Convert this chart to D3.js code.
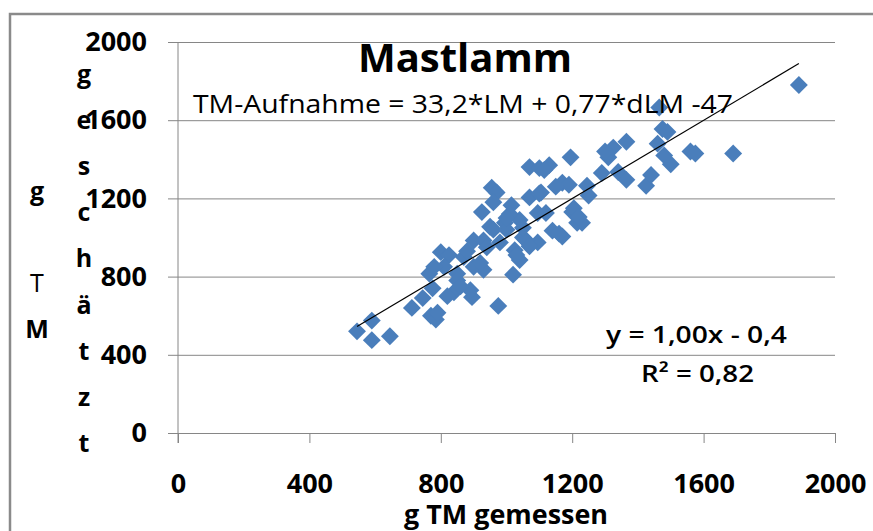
<!DOCTYPE html>
<html>
<head>
<meta charset="utf-8">
<script src="https://cdn.jsdelivr.net/npm/d3@7"></script>
<style>
body { margin: 0; background: #fff; }
svg { display: block; font-family: "Open Sans", sans-serif; }
</style>
</head>
<body>
<svg width="873" height="531"></svg>
<script>
var measured = [545, 590, 590, 645, 712, 745, 770, 785, 790, 775,
    765, 800, 825, 850, 840, 820, 895, 975, 850, 810,
    780, 870, 880, 900, 930, 1020, 1025, 900, 930, 980,
    1050, 1095, 950, 995, 1040, 925, 1015, 1095, 1120, 1070,
    1100, 955, 970, 1070, 1100, 1130, 1195, 1170, 1190, 1150,
    1245, 1250, 1200, 1215, 1230, 1170, 1140, 1205, 1220, 1060,
    1070, 1040, 1105, 1000, 1010, 960, 1290, 1310, 1325, 1340,
    1365, 1365, 1425, 1440, 1460, 1465, 1475, 1490, 1480, 1500,
    1560, 1575, 1690, 1890, 1300, 1030, 890, 960, 1050, 1115,
    1160, 920, 1000, 860, 940];
var estimated = [520, 575, 475, 495, 640, 690, 600, 580, 615, 740,
    815, 925, 910, 815, 720, 700, 695, 650, 780, 850,
    850, 900, 930, 850, 835, 810, 935, 985, 985, 975,
    1000, 975, 1055, 1075, 1090, 1130, 1165, 1125, 1125, 1205,
    1225, 1255, 1230, 1360, 1355, 1370, 1410, 1280, 1270, 1260,
    1265, 1215, 1130, 1075, 1075, 1005, 1035, 1150, 1105, 985,
    955, 885, 1230, 1040, 1120, 1180, 1330, 1410, 1460, 1335,
    1490, 1295, 1265, 1320, 1480, 1665, 1555, 1540, 1420, 1375,
    1440, 1430, 1430, 1780, 1440, 910, 730, 1040, 1050, 1345,
    1020, 870, 1100, 750, 950];

var xTicks = [0, 400, 800, 1200, 1600, 2000];
var yTicks = [0, 400, 800, 1200, 1600, 2000];

// trend line y = 1,00x - 0,4 over the measured range
var trendSlope = 1.00;
var trendIntercept = -0.4;

var title = "Mastlamm";
var formula = "TM-Aufnahme = 33,2*LM + 0,77*dLM -47";
var eqLine = "y = 1,00x - 0,4";
var r2Line = "R² = 0,82";
var xTitle = "g TM gemessen";
var yTitleOuter = ["g", "", "T", "M"];
var yTitleInner = "geschätzt".split("");

var svg = d3.select("svg");
var gridColor = "#868686";
var markColor = "#4a7ebb";
var fmt = d3.format("d");

var x = d3.scaleLinear().domain([0, 2000]).range([178, 835]);
var y = d3.scaleLinear().domain([0, 2000]).range([433, 42]);

// outer frame (only left and top edges visible)
svg.append("path")
    .attr("d", "M10,531V14H873")
    .attr("fill", "none")
    .attr("stroke", "#8a8a8a")
    .attr("stroke-width", 2.5);

var yAxis = svg.append("g")
    .attr("transform", "translate(168,0)")
    .call(d3.axisLeft(y).tickValues(yTicks).tickFormat(fmt)
        .tickSizeInner(-(835 - 168)).tickSizeOuter(0).tickPadding(21));
yAxis.select(".domain").remove();
yAxis.selectAll("line").attr("stroke", gridColor);
yAxis.selectAll("text")
    .attr("fill", "#000")
    .style("font-size", "27px")
    .style("font-weight", "bold")
    .style("font-family", "'Open Sans', sans-serif");

var xAxis = svg.append("g")
    .attr("transform", "translate(0,433)")
    .call(d3.axisBottom(x).tickValues(xTicks).tickFormat(fmt)
        .tickSizeInner(10).tickSizeOuter(0).tickPadding(31));
xAxis.select(".domain").remove();
xAxis.selectAll("line").attr("stroke", gridColor);
xAxis.selectAll("text")
    .attr("fill", "#000")
    .style("font-size", "27px")
    .style("font-weight", "bold")
    .style("font-family", "'Open Sans', sans-serif");

svg.append("line")
    .attr("x1", x(0)).attr("x2", x(0))
    .attr("y1", y(2000)).attr("y2", y(0) + 10)
    .attr("stroke", gridColor);

// points
svg.append("g").selectAll("path")
    .data(d3.zip(measured, estimated))
    .enter().append("path")
    .attr("d", d3.symbol(d3.symbolSquare, 160))
    .attr("transform", function(d) { return "translate(" + x(d[0]) + "," + y(d[1]) + ") rotate(45)"; })
    .attr("fill", markColor);

var xMin = d3.min(measured), xMax = d3.max(measured);
svg.append("line")
    .attr("x1", x(xMin)).attr("y1", y(trendSlope * xMin + trendIntercept))
    .attr("x2", x(xMax)).attr("y2", y(trendSlope * xMax + trendIntercept))
    .attr("stroke", "#000")
    .attr("stroke-width", 1.2);

// texts
svg.append("text")
    .attr("x", 465).attr("y", 72)
    .attr("text-anchor", "middle")
    .attr("textLength", 214).attr("lengthAdjust", "spacingAndGlyphs")
    .style("font-size", "40px").style("font-weight", "bold")
    .text(title);

svg.append("text")
    .attr("x", 193).attr("y", 113)
    .attr("textLength", 540).attr("lengthAdjust", "spacingAndGlyphs")
    .style("font-size", "25px")
    .text(formula);

svg.append("text")
    .attr("x", 606).attr("y", 343)
    .attr("textLength", 181).attr("lengthAdjust", "spacingAndGlyphs")
    .style("font-size", "24px").style("font-weight", "600")
    .text(eqLine);

svg.append("text")
    .attr("x", 641).attr("y", 382)
    .attr("textLength", 113).attr("lengthAdjust", "spacingAndGlyphs")
    .style("font-size", "24px").style("font-weight", "600")
    .text(r2Line);

svg.append("text")
    .attr("x", 506).attr("y", 524)
    .attr("text-anchor", "middle")
    .attr("textLength", 204).attr("lengthAdjust", "spacingAndGlyphs")
    .style("font-size", "26px").style("font-weight", "bold")
    .text(xTitle);

svg.append("g").selectAll("text")
    .data(yTitleOuter)
    .enter().append("text")
    .attr("x", 37)
    .attr("y", function(d, i) { return 200 + i * 46; })
    .attr("text-anchor", "middle")
    .style("font-size", "25px")
    .style("font-weight", function(d) { return d === "T" ? "normal" : "bold"; })
    .text(function(d) { return d; });

svg.append("g").selectAll("text")
    .data(yTitleInner)
    .enter().append("text")
    .attr("x", 84)
    .attr("y", function(d, i) { return 83 + i * 46.1; })
    .attr("text-anchor", "middle")
    .style("font-size", "25px")
    .style("font-weight", "bold")
    .text(function(d) { return d; });
</script>
</body>
</html>
